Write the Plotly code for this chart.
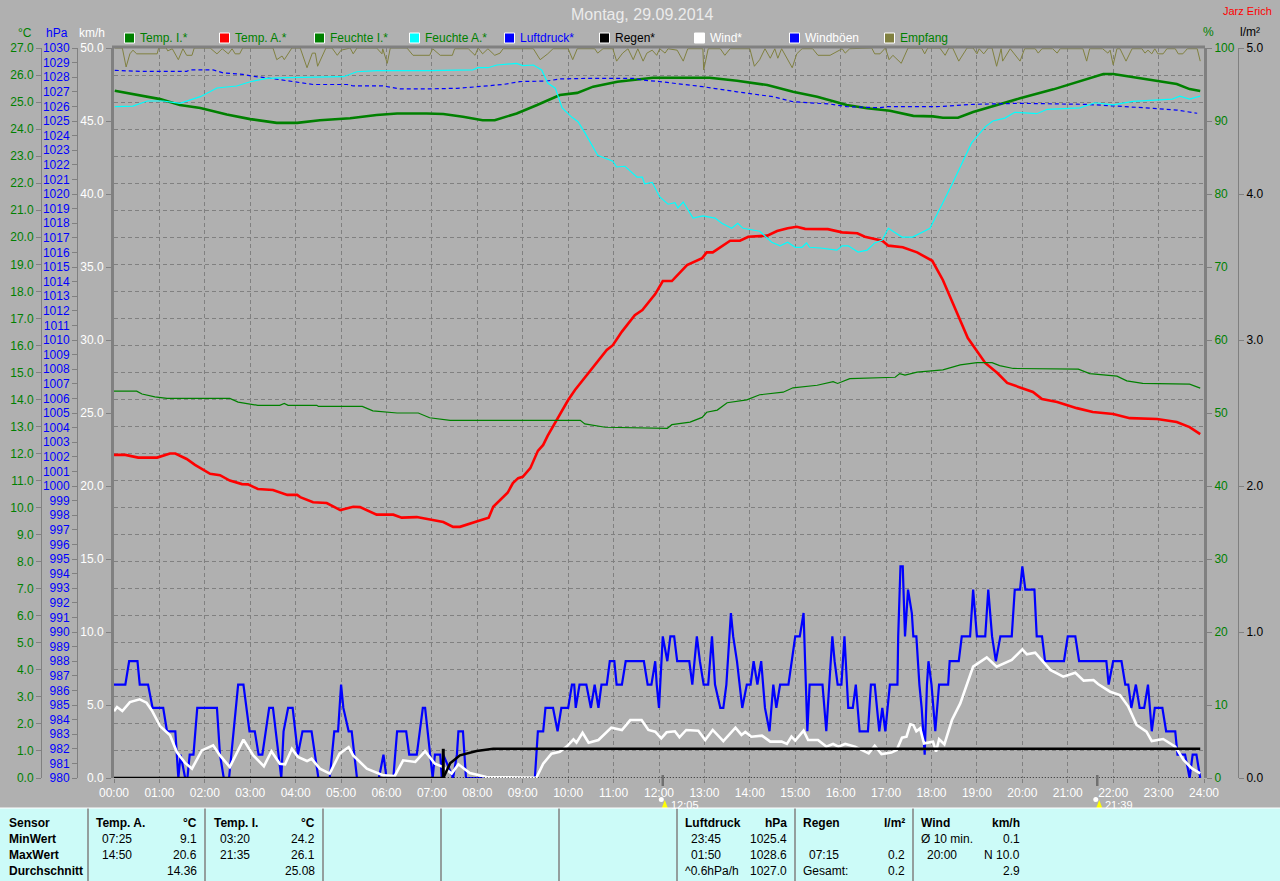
import plotly.graph_objects as go

# ---------- data: minutes since midnight + values ----------
hours = list(range(0, 25))
hour_labels = [f"{h:02d}:00" for h in hours]

temp_a_t = [0,15,32,57,74,81,96,107,127,140,153,169,177,190,210,229,242,246,263,281,299,316,325,347,369,380,400,421,435,448,457,480,495,501,510,520,527,534,540,550,560,567,573,585,600,609,633,651,659,671,688,698,715,725,737,757,777,783,791,803,814,827,838,863,876,890,902,913,943,962,982,992,1015,1023,1042,1061,1081,1095,1108,1128,1151,1167,1180,1214,1226,1246,1272,1293,1320,1342,1378,1404,1421,1435]
temp_a_v = [11.95,11.95,11.85,11.85,12.0,12.0,11.8,11.58,11.25,11.2,11.0,10.87,10.86,10.69,10.65,10.47,10.47,10.39,10.2,10.17,9.91,10.03,10.02,9.74,9.74,9.63,9.65,9.54,9.47,9.29,9.29,9.5,9.63,10.03,10.26,10.55,10.91,11.09,11.14,11.46,12.1,12.32,12.66,13.24,13.98,14.35,15.21,15.83,16.01,16.51,17.12,17.31,17.9,18.38,18.38,18.97,19.23,19.44,19.44,19.65,19.87,19.87,20.02,20.06,20.23,20.33,20.39,20.31,20.3,20.18,20.15,20.02,19.87,19.69,19.63,19.44,19.13,18.42,17.57,16.27,15.35,14.98,14.61,14.28,14.02,13.91,13.68,13.54,13.46,13.31,13.28,13.17,12.98,12.72]

temp_i_t = [1,25,61,87,114,149,180,215,242,272,312,347,374,413,435,461,487,503,532,559,589,612,633,665,695,712,787,823,863,897,929,968,995,1025,1056,1082,1095,1115,1135,1161,1197,1241,1285,1307,1320,1359,1404,1421,1435]
temp_i_v = [25.42,25.3,25.11,24.89,24.78,24.54,24.37,24.23,24.23,24.33,24.4,24.52,24.58,24.58,24.56,24.46,24.33,24.33,24.58,24.89,25.26,25.34,25.57,25.75,25.85,25.9,25.9,25.79,25.63,25.38,25.2,24.89,24.77,24.68,24.49,24.47,24.42,24.42,24.63,24.85,25.14,25.47,25.84,26.04,26.04,25.88,25.67,25.48,25.41]

hum_i_t = [0,30,37,54,70,153,164,180,190,219,225,230,268,270,328,342,374,402,417,444,616,622,649,731,737,761,777,783,797,810,836,853,884,897,929,950,956,972,1032,1038,1045,1061,1095,1118,1140,1160,1170,1188,1274,1289,1325,1338,1359,1421,1435]
hum_i_v = [53.0,53.0,52.6,52.2,52.0,52.0,51.5,51.2,51.05,51.05,51.3,51.05,51.05,50.9,50.9,50.3,50.0,50.0,49.35,49.0,49.0,48.5,48.05,47.9,48.4,48.75,49.4,50.1,50.4,51.4,51.8,52.5,52.85,53.45,53.8,54.3,54.05,54.7,54.9,55.4,55.2,55.6,55.9,56.6,56.9,56.9,56.5,56.1,56.0,55.4,55.05,54.4,54.05,53.95,53.4]

hum_a_t = [1,25,44,65,87,114,136,162,180,202,229,276,303,321,347,417,474,481,494,506,532,540,554,565,573,583,592,605,613,622,631,639,649,659,664,675,691,698,701,711,721,732,741,745,752,765,778,794,803,816,824,831,853,869,880,890,900,909,915,919,933,955,962,970,983,995,1005,1015,1023,1041,1055,1078,1095,1108,1133,1151,1161,1177,1190,1219,1233,1276,1296,1320,1346,1398,1408,1421,1435]
hum_a_v = [91.96,92.05,92.74,92.74,92.42,93.33,94.52,94.79,95.38,95.85,95.93,95.99,96.07,96.75,96.89,96.9,97.0,97.3,97.3,97.67,97.9,97.58,97.67,96.99,95.2,94.5,91.8,90.5,89.9,88.4,86.7,85.3,84.9,84.5,83.7,83.8,82.3,82.3,81.4,81.6,79.6,78.6,78.8,78.1,78.9,76.7,77.0,76.7,76.0,75.3,76.0,75.3,74.9,73.4,72.9,73.4,72.7,72.7,73.3,72.7,72.6,72.3,72.9,72.9,72.05,72.3,73.3,73.7,75.3,74.1,74.1,75.3,78.8,81.5,87.0,89.2,90.0,90.4,91.2,91.0,91.6,91.8,92.5,92.2,92.7,93.0,93.4,93.0,93.4]

press_t = [1,34,96,100,131,144,170,184,210,236,263,308,316,355,378,417,453,480,514,536,572,589,625,686,699,721,778,823,871,897,946,968,1012,1021,1087,1135,1197,1285,1329,1373,1404,1431]
press_v = [1028.47,1028.4,1028.4,1028.5,1028.5,1028.3,1028.2,1028.06,1027.9,1027.7,1027.5,1027.5,1027.4,1027.4,1027.2,1027.2,1027.24,1027.35,1027.5,1027.7,1027.74,1027.88,1027.92,1027.92,1027.8,1027.7,1027.35,1027.0,1026.66,1026.32,1026.16,1025.98,1025.91,1025.98,1025.98,1026.14,1026.21,1026.14,1026.03,1025.87,1025.75,1025.53]

signal_t = [1,11,16,21,25,30,57,59,69,71,77,85,91,96,103,106,127,136,143,151,156,160,166,170,210,215,222,225,235,246,255,262,266,269,280,288,295,300,312,316,321,347,354,355,361,365,387,395,417,421,431,447,450,468,477,481,487,494,503,510,514,554,563,573,580,600,606,612,635,639,646,659,664,672,679,686,692,699,704,711,717,721,728,732,744,752,758,778,779,785,801,807,814,840,846,853,860,867,873,877,882,896,902,909,923,930,946,962,966,972,1001,1005,1012,1019,1024,1029,1040,1049,1067,1071,1075,1091,1098,1103,1108,1116,1127,1135,1140,1143,1149,1155,1160,1166,1172,1174,1184,1197,1203,1217,1221,1226,1240,1246,1250,1280,1285,1289,1306,1313,1316,1320,1325,1329,1337,1345,1358,1362,1366,1371,1375,1379,1386,1391,1402,1406,1412,1418,1431,1435]
signal_v = [100,100,97.4,99.2,99.7,99.2,99.2,100,100,99.6,99.9,98.4,99.9,99.0,99.0,100,100,99.2,99.9,99.2,99.9,99.2,99.2,100,100,98.4,98.9,98.4,100,100,97.3,99.3,99.3,97.5,100,100,99.0,99.7,100,99.2,100,100,99.2,99.9,97.9,100,100,99.0,99.0,99.9,99.0,99.0,99.9,99.9,99.0,100,99.2,99.9,99.0,99.3,99.9,99.9,98.4,99.2,99.9,99.9,98.4,99.9,99.9,99.3,99.9,99.9,98.2,99.3,99.9,98.4,99.9,98.2,99.3,99.7,99.0,99.9,99.3,99.9,99.7,98.2,99.9,99.9,97.0,99.9,99.9,99.0,99.9,99.9,97.5,98.4,99.9,98.6,99.9,98.6,99.9,97.3,99.2,99.9,99.9,99.0,99.0,99.9,99.3,99.9,100,99.2,99.2,100,98.4,99.0,97.9,100,100,99.2,100,100,99.0,100,100,98.2,100,100,99.2,99.9,99.2,100,100,97.5,99.9,98.2,99.9,98.2,99.9,99.9,99.3,99.9,99.9,99.3,99.9,99.9,98.2,99.9,99.9,99.3,99.7,97.7,99.9,99.9,98.2,99.9,99.9,99.3,99.7,99.2,99.9,99.2,99.2,99.9,99.9,99.2,99.2,99.9,99.9,98.2]

gust_t = [
    0,15,20,31,34,45,51,65,70,81,
    85,88,94,97,100,105,110,136,140,145,
    152,158,164,171,179,186,191,196,205,210,
    218,221,224,230,236,243,249,261,270,285,
    291,296,300,303,310,314,321,350,356,360,
    369,374,386,390,400,408,411,418,421,424,
    431,433,435,448,453,455,461,465,556,560,
    567,570,580,586,591,600,605,608,610,615,
    624,630,635,640,644,651,655,661,664,671,
    676,700,705,710,715,717,720,725,731,735,
    740,744,760,764,770,774,779,785,790,794,
    801,805,809,815,818,823,830,836,841,845,
    850,855,860,866,871,875,880,891,900,906,
    911,913,916,919,936,941,949,952,956,961,
    965,970,976,980,985,996,1000,1005,1011,1015,
    1019,1022,1025,1035,1036,1039,1042,1043,1045,1049,
    1054,1056,1060,1064,1067,1071,1074,1076,1080,1085,
    1090,1102,1104,1116,1120,1131,1135,1140,1151,1155,
    1160,1165,1171,1186,1190,1197,1200,1204,1216,1219,
    1226,1230,1255,1260,1270,1275,1311,1314,1320,1331,
    1336,1340,1344,1350,1355,1361,1366,1371,1375,1385,
    1390,1402,1405,1415,1421,1425,1430,1435]
gust_v = [
    6.4,6.4,8.0,8.0,6.4,6.4,4.8,4.8,3.2,3.2,
    0,1.6,0,0,1.6,1.6,4.8,4.8,1.6,0,
    0,3.2,6.4,6.4,3.2,3.2,1.6,1.6,4.8,4.8,
    1.6,0,3.2,4.8,4.8,1.6,3.2,3.2,0,0,
    3.2,3.2,6.4,4.8,3.2,3.2,0,0,1.6,0,
    0,3.2,3.2,1.6,1.6,4.8,4.8,1.6,0,1.6,
    1.6,0,1.6,0,1.6,3.2,3.2,0,0,3.2,
    3.2,4.8,4.8,3.2,4.8,4.8,6.4,6.4,4.8,6.4,
    6.4,4.8,6.4,4.8,6.4,6.4,8.0,8.0,6.4,6.4,
    8.0,8.0,6.4,6.4,8.0,6.4,4.8,9.7,8.0,9.7,
    9.7,8.0,8.0,6.4,9.7,8.0,6.4,6.4,9.7,6.4,
    4.8,4.8,6.4,11.3,9.7,8.0,4.8,6.4,6.4,8.0,
    6.4,8.0,4.8,3.2,6.4,4.8,6.4,6.4,9.7,9.7,
    11.3,8.0,3.2,6.4,6.4,3.2,9.7,8.0,6.4,6.4,
    9.7,4.8,4.8,6.4,3.2,3.2,6.4,6.4,3.2,4.8,
    3.2,4.8,6.4,6.4,9.7,14.5,14.5,12.9,9.7,12.9,
    11.3,9.7,9.7,6.4,4.8,1.6,6.4,8.0,6.4,3.2,
    6.4,6.4,8.0,8.0,9.7,9.7,12.9,9.7,9.7,12.9,
    9.7,8.0,9.7,9.7,12.9,12.9,14.5,12.9,12.9,9.7,
    9.7,8.0,8.0,9.7,9.7,8.0,8.0,6.4,8.0,8.0,
    6.4,6.4,4.8,6.4,4.8,4.8,6.4,3.2,4.8,4.8,
    3.2,3.2,1.6,1.6,0,1.6,1.6,0]

wind_t = [0,4,11,21,34,43,50,61,74,83,94,103,116,131,140,153,171,184,198,208,219,226,235,243,255,261,272,285,298,310,316,334,356,371,382,398,411,424,435,446,455,470,492,558,567,578,589,598,607,611,619,627,640,657,671,682,697,706,715,723,730,741,747,756,772,781,791,805,821,829,834,842,856,867,882,889,895,900,911,917,930,941,950,957,966,979,997,1005,1014,1027,1034,1041,1047,1052,1056,1060,1065,1070,1082,1086,1090,1097,1107,1118,1135,1153,1166,1186,1200,1206,1217,1237,1254,1270,1281,1294,1300,1316,1329,1340,1351,1364,1371,1386,1402,1413,1424,1435]
wind_v = [4.57,4.86,4.59,5.2,5.39,5.16,4.63,3.54,2.92,1.78,1.03,0.64,1.89,2.24,1.55,0.75,2.63,1.55,0.8,1.83,0.98,0.94,2.0,1.44,1.16,1.32,0.64,0.3,1.67,2.12,1.55,0.64,0.18,0.14,1.21,1.1,1.83,0.98,0.75,0.3,0.94,0.34,0.07,0.02,0.98,1.67,1.8,2.15,2.65,2.42,3.1,2.42,2.6,3.45,3.29,3.97,3.97,3.29,3.17,2.72,3.13,3.2,2.79,3.29,3.24,2.6,3.29,2.53,3.45,2.95,3.15,2.83,2.9,2.49,2.49,2.33,2.83,2.56,3.24,2.6,2.6,2.15,2.33,2.15,2.33,2.15,1.69,2.21,1.64,1.74,1.92,2.76,2.83,3.68,3.63,3.2,3.4,2.37,2.49,1.8,2.65,2.31,3.97,5.11,7.63,8.26,7.63,8.08,8.81,8.47,8.58,7.4,6.94,7.21,6.67,6.71,6.44,5.91,5.68,4.89,3.63,3.17,2.53,2.67,2.15,1.23,0.66,0.32]

rain_t = [0,435,444,457,479,501,1435]
rain_v = [0,0,0.10,0.155,0.185,0.2,0.2]
rain_spike_t = [435,435]
rain_spike_v = [0,0.2]
rain_base_t = [437,1435]
rain_base_v = [0,0]

for nm, a, b in [("temp_a", temp_a_t, temp_a_v), ("temp_i", temp_i_t, temp_i_v), ("hum_i", hum_i_t, hum_i_v),
                 ("hum_a", hum_a_t, hum_a_v), ("press", press_t, press_v), ("signal", signal_t, signal_v),
                 ("gust", gust_t, gust_v), ("wind", wind_t, wind_v)]:
    if len(a) != len(b):
        raise SystemExit(f"{nm}: {len(a)} times, {len(b)} values")

legend_names = ["Temp. I.*","Temp. A.*","Feuchte I.*","Feuchte A.*","Luftdruck*","Regen*","Wind*","Windböen","Empfang"]
legend_fill = ["#008000","#ff0000","#008000","#00ffff","#0000ff","#000000","#ffffff","#0000ff","#808040"]
legend_text = ["#008000","#008000","#008000","#008000","#0000ff","#000000","#ffffff","#ffffff","#008000"]
legend_px = [124,219,314,409,504,599,694,789,884]

panel_rows = ["Sensor","MinWert","MaxWert","Durchschnitt"]
panel_cols = [
    (95,198,"Temp. A.","°C",["07:25","14:50",""],["9.1","20.6","14.36"]),
    (213,316,"Temp. I.","°C",["03:20","21:35",""],["24.2","26.1","25.08"]),
    (684,788,"Luftdruck","hPa",["23:45","01:50","^0.6hPa/h"],["1025.4","1028.6","1027.0"]),
    (802,906,"Regen","l/m²",["","07:15","Gesamt:"],["","0.2","0.2"]),
    (920,1021,"Wind","km/h",["Ø 10 min.","20:00",""],["0.1","N 10.0","2.9"]),
]
panel_seps = [88,205,323,441,559,677,795,913]
moon_t = [725,1299]
moon_labels = ["12:05","21:39"]

# ---------- figure ----------
W, H = 1280, 881
px = lambda v: v / W
py = lambda v: 1 - v / H
BG, GRID, FONT = "#b0b0b0", "#808080", "Liberation Sans"
FS = 12
dom_x = [px(114), px(1204)]
dom_y = [py(778), py(48)]

fig = go.Figure()
def line(x, y, axis, color, width, name, dash=None):
    fig.add_trace(go.Scatter(x=x, y=y, yaxis=axis, mode="lines", name=name,
                             line=dict(color=color, width=width, dash=dash), hoverinfo="skip"))

line(signal_t, signal_v, "y4", "#808040", 1, "Empfang")
line(hum_i_t, hum_i_v, "y4", "#008000", 1.2, "Feuchte I.")
line(hum_a_t, hum_a_v, "y4", "#00ffff", 1.2, "Feuchte A.")
line(press_t, press_v, "y2", "#0000ff", 1.2, "Luftdruck", dash="4px,3px")
line(rain_base_t, rain_base_v, "y5", "#000000", 1.5, "Regenrate", dash="1px,2px")
line(rain_t, rain_v, "y5", "#000000", 2.5, "Regen")
line(rain_spike_t, rain_spike_v, "y5", "#000000", 3, "Regen 07:15")
line(gust_t, gust_v, "y3", "#0000ff", 2.2, "Windböen")
line(wind_t, wind_v, "y3", "#ffffff", 2.6, "Wind")
line(temp_i_t, temp_i_v, "y", "#008000", 2.6, "Temp. I.")
line(temp_a_t, temp_a_v, "y", "#ff0000", 2.6, "Temp. A.")

ax_common = dict(domain=dom_y, showgrid=False, zeroline=False, ticks="outside", ticklen=5,
                 tickcolor=GRID, linecolor=GRID, showline=True, fixedrange=True)
fig.update_layout(
    width=W, height=H, margin=dict(l=0, r=0, t=0, b=0, autoexpand=False), autosize=False,
    paper_bgcolor=BG, plot_bgcolor=BG, showlegend=False,
    font=dict(family=FONT, size=FS),
    xaxis=dict(domain=dom_x, range=[0, 1440], tickvals=[h * 60 for h in hours], ticktext=hour_labels,
               showgrid=True, gridcolor=GRID, griddash="4px,3px", gridwidth=1, zeroline=False,
               ticks="outside", ticklen=4, tickcolor=GRID, showline=False, anchor="y3",
               tickfont=dict(color="#ffffff", size=FS), fixedrange=True),
    yaxis=dict(**{**ax_common, "showgrid": True}, gridcolor=GRID, griddash="4px,3px", gridwidth=1,
               range=[0, 27], dtick=1, tickformat=".1f", anchor="free", position=px(41), side="left",
               tickfont=dict(color="#008000", size=FS)),
    yaxis2=dict(**ax_common, range=[980, 1030], dtick=1, anchor="free", position=px(77), side="left",
                overlaying="y", tickformat="d", tickfont=dict(color="#0000ff", size=FS)),
    yaxis3=dict(**ax_common, range=[0, 50], dtick=5, tickformat=".1f", anchor="x", side="left",
                overlaying="y", linewidth=3, tickfont=dict(color="#ffffff", size=FS)),
    yaxis4=dict(**ax_common, range=[0, 100], dtick=10, anchor="x", side="right",
                overlaying="y", linewidth=3, tickfont=dict(color="#008000", size=FS)),
    yaxis5=dict(**ax_common, range=[0, 5], dtick=1, tickformat=".1f", anchor="free", position=px(1238), side="right",
                overlaying="y", tickfont=dict(color="#000000", size=FS)),
)

shapes, notes = [], []
def label(x, y, text, color="#000000", size=FS, anchor="left", bold=False):
    notes.append(dict(xref="paper", yref="paper", x=px(x), y=py(y), text=f"<b>{text}</b>" if bold else text,
                      showarrow=False, xanchor=anchor, yanchor="middle",
                      font=dict(color=color, size=size, family=FONT), borderpad=0))

# top frame line
shapes.append(dict(type="line", xref="paper", yref="paper", x0=px(112), x1=px(1205), y0=py(47), y1=py(47),
                   line=dict(color=GRID, width=3)))

label(642, 15, "Montag, 29.09.2014", "#ebebeb", 16, "center")
label(1273, 11, "Jarz Erich", "#ff0000", 11, "right")
label(25, 33, "°C", "#008000", FS, "center")
label(57, 33, "hPa", "#0000ff", FS, "center")
label(92, 33, "km/h", "#ffffff", FS, "center")
label(1208, 32, "%", "#008000", FS, "center")
label(1250, 32, "l/m²", "#000000", FS, "center")

for name, fill, col, x0 in zip(legend_names, legend_fill, legend_text, legend_px):
    shapes.append(dict(type="rect", xref="paper", yref="paper", x0=px(x0 + .5), x1=px(x0 + 10.5), y0=py(33), y1=py(43),
                       fillcolor=fill, line=dict(color="#ffffff", width=1)))
    label(x0 + 15, 38, name, col)

# moon / event markers below the axis
for t, txt in zip(moon_t, moon_labels):
    cx = 114 + t * 1090 / 1440
    shapes.append(dict(type="line", xref="x", yref="paper", x0=t, x1=t, y0=py(775), y1=py(786),
                       line=dict(color="#707070", width=2.5)))
    shapes.append(dict(type="circle", xref="paper", yref="paper", x0=px(cx - 4), x1=px(cx + 1), y0=py(797), y1=py(802),
                       fillcolor="#ffffff", line=dict(width=0)))
    shapes.append(dict(type="path", xref="paper", yref="paper",
                       path=f"M {px(cx-1)} {py(808)} L {px(cx+5)} {py(808)} L {px(cx+2)} {py(800)} Z",
                       fillcolor="#ffff00", line=dict(width=0)))
    label(cx + 7, 804.5, txt, "#ffffff", 11)

# bottom panel
shapes.append(dict(type="rect", xref="paper", yref="paper", x0=0, x1=1, y0=0, y1=py(808),
                   fillcolor="#ccfbf8", line=dict(width=0), layer="above"))
for s in panel_seps:
    shapes.append(dict(type="line", xref="paper", yref="paper", x0=px(s), x1=px(s), y0=0, y1=py(808),
                       line=dict(color=GRID, width=1.5)))
shapes.append(dict(type="line", xref="paper", yref="paper", x0=0, x1=1, y0=py(808), y1=py(808),
                   line=dict(color="#ffffff", width=1)))
rows_y = [823, 839, 855, 871]
for txt, y in zip(panel_rows, rows_y):
    label(8, y, txt, bold=True)
for xl, xr, head, unit, times, vals in panel_cols:
    label(xl, rows_y[0], head, bold=True)
    label(xr, rows_y[0], unit, anchor="right", bold=True)
    for y, tm, v in zip(rows_y[1:], times, vals):
        if tm:
            label(xl + (0 if tm[0] in "^GØ" else 6), y, tm)
        if v:
            label(xr, y, v, anchor="right")

fig.update_layout(shapes=shapes, annotations=notes)
fig.write_html("out.html", config={"displayModeBar": False},
               post_script="document.body.style.margin='0';document.documentElement.style.overflow='hidden';document.body.style.background='#b0b0b0';")
